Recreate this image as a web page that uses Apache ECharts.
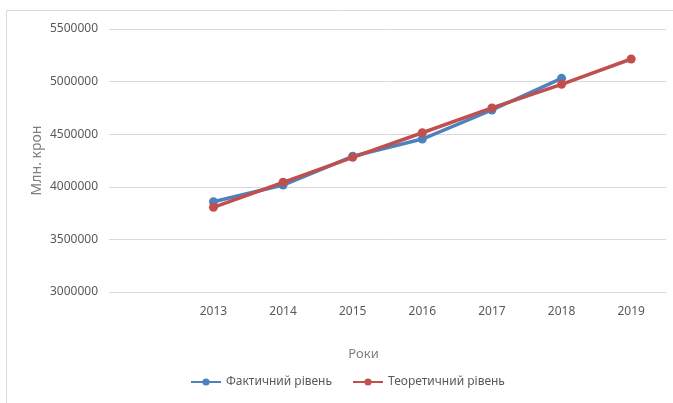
<!DOCTYPE html>
<html>
<head>
<meta charset="utf-8">
<script src="https://cdn.jsdelivr.net/npm/echarts@6/dist/echarts.min.js"></script>
<style>
  html, body { margin: 0; padding: 0; background: #fff; }
  #chart { width: 673px; height: 403px; }
</style>
</head>
<body>
<div id="chart"></div>
<script>
// категорії (перша порожня, як у вихідній діаграмі)
var years = ['', '2013', '2014', '2015', '2016', '2017', '2018', '2019'];
var actual = [null, 3858000, 4017000, 4290000, 4454000, 4730000, 5031000, null];
var theoretical = [null, 3805000, 4043000, 4280000, 4514000, 4750000, 4974000, 5215000];

var chart = echarts.init(document.getElementById('chart'));
var font = '"Noto Sans", "Open Sans", sans-serif';
var option = {
	animation: false,
	textStyle: { fontFamily: font },
	graphic: [{
		type: 'rect',
		shape: { x: 6.5, y: 10.5, width: 700, height: 420 },
		style: { fill: 'none', stroke: '#d9d9d9', lineWidth: 1 }
	}],
	grid: { left: 109, right: 7, top: 29, bottom: 111 },
	legend: {
		bottom: 10,
		left: 185,
		itemGap: 20,
		itemWidth: 30,
		itemHeight: 9,
		textStyle: { color: '#595959', fontSize: 12, fontFamily: font },
		data: ['Фактичний рівень', 'Теоретичний рівень']
	},
	xAxis: {
		type: 'category',
		data: years,
		name: 'Роки',
		nameLocation: 'middle',
		nameGap: 56,
		nameTextStyle: { color: '#7f7f7f', fontSize: 13, padding: [0, 48, 0, 0] },
		axisLine: { show: false },
		axisTick: { show: false },
		axisLabel: { color: '#595959', fontSize: 12, margin: 14 }
	},
	yAxis: {
		type: 'value',
		min: 3000000,
		max: 5500000,
		interval: 500000,
		name: 'Млн. крон',
		nameLocation: 'middle',
		nameGap: 65,
		nameMoveOverlap: false,
		nameTextStyle: { color: '#7f7f7f', fontSize: 14 },
		axisLabel: {
			color: '#595959', fontSize: 12, margin: 11,
			formatter: function (v) { return String(v); }
		},
		splitLine: { lineStyle: { color: '#d9d9d9', width: 1 } }
	},
	series: [
		{
			name: 'Фактичний рівень',
			type: 'line',
			data: actual,
			symbol: 'circle',
			symbolSize: 9,
			lineStyle: { color: '#4f81bd', width: 3.5 },
			itemStyle: { color: '#4f81bd' }
		},
		{
			name: 'Теоретичний рівень',
			type: 'line',
			data: theoretical,
			symbol: 'circle',
			symbolSize: 9,
			lineStyle: { color: '#c0504d', width: 3.5 },
			itemStyle: { color: '#c0504d' }
		}
	]
};
chart.setOption(option);
</script>
</body>
</html>
